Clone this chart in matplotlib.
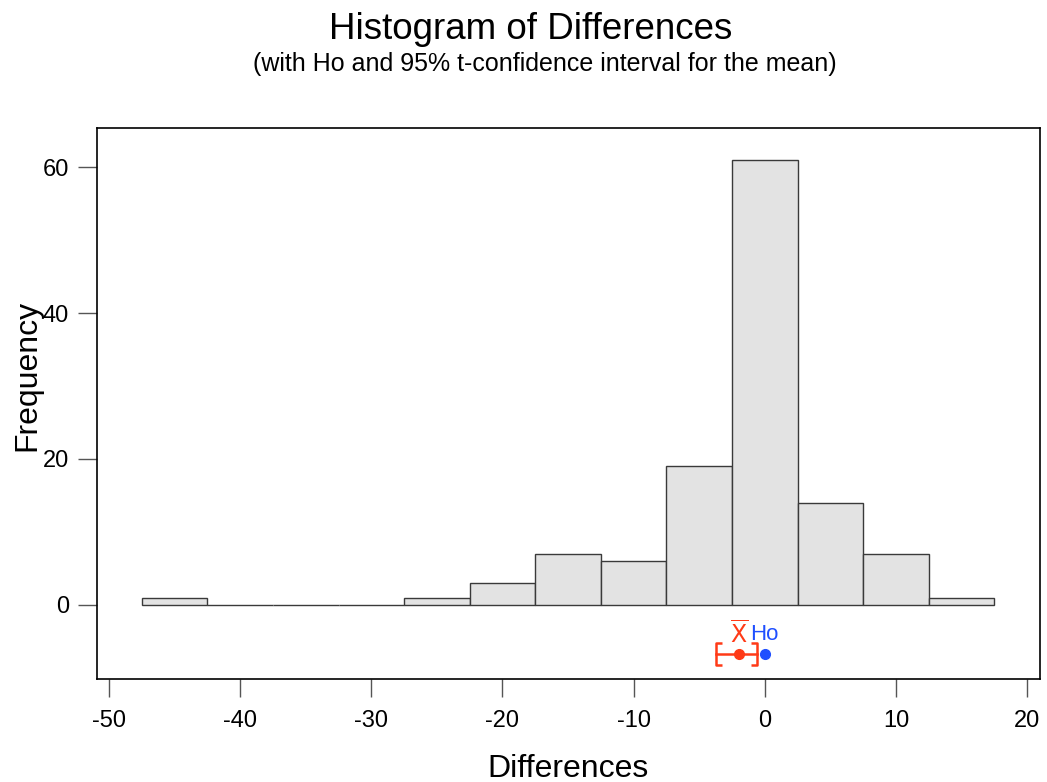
import matplotlib
matplotlib.use('Agg')
import matplotlib.pyplot as plt
import numpy as np

plt.rcParams['font.family'] = ['Liberation Sans', 'DejaVu Sans']
plt.rcParams['axes.unicode_minus'] = False

# histogram bins (centres) and counts
bin_centers = [-45, -40, -35, -30, -25, -20, -15, -10, -5, 0, 5, 10, 15]
counts = [1, 0, 0, 0, 1, 3, 7, 6, 19, 61, 14, 7, 1]
bin_width = 5

# mean, 95% t-confidence interval, null hypothesis
mean_diff = -1.95
ci_low, ci_high = -3.7, -0.6
h0 = 0

W, H = 1047, 782
fig = plt.figure(figsize=(W / 100, H / 100), dpi=100)
ax = fig.add_axes([97 / W, 1 - 679 / H, (1040 - 97) / W, (679 - 128) / H])

ax.bar(bin_centers, counts, width=bin_width, color='#e3e3e3', edgecolor='#3a3a3a', linewidth=1.0)

ci_y = -6.7
red = '#ff3a17'
blue = '#1f4fff'
lbr = [(0.5, 1), (0, 1), (0, -1), (0.5, -1)]
rbr = [(-0.5, 1), (0, 1), (0, -1), (-0.5, -1)]
ax.plot([ci_low, ci_high], [ci_y, ci_y], color=red, lw=1.8)
ax.plot(ci_low, ci_y, marker=lbr, ms=16, mew=1.8, color=red, fillstyle='none')
ax.plot(ci_high, ci_y, marker=rbr, ms=16, mew=1.8, color=red, fillstyle='none')
ax.plot(mean_diff, ci_y, 'o', color=red, ms=7)
ax.plot(h0, ci_y, 'o', color=blue, ms=7)
ax.annotate(r'$\overline{\mathrm{X}}$', (mean_diff, -4.1), color=red, fontsize=17,
            ha='center', va='center', math_fontfamily='dejavusans')
ax.annotate('Ho', (h0, -4.1), xytext=(-15, 0), textcoords='offset pixels', color=blue,
            fontsize=16, ha='left', va='center')

ax.set_xlim(-50.92, 20.99)
ax.set_ylim(-10.16, 65.36)
ax.set_xticks(np.arange(-50, 21, 10))
ax.set_yticks([0, 20, 40, 60])
ax.tick_params(axis='x', direction='out', length=13, width=1.0, labelsize=17, pad=9, color='#555555')
ax.tick_params(axis='y', direction='out', length=14, width=1.0, labelsize=17, pad=6, color='#555555')
for s in ax.spines.values():
    s.set_linewidth(1.2)

fig.text(568 / W, 1 - 777 / H, 'Differences', fontsize=23, ha='center', va='baseline')
fig.text(35 / W, 1 - 375 / H, 'Frequency', fontsize=23, ha='center', va='baseline',
         rotation=90, rotation_mode='anchor')

fig.text(531 / W, 1 - 39 / H, 'Histogram of Differences', fontsize=26.5, ha='center', va='baseline')
fig.text(545 / W, 1 - 71 / H, '(with Ho and 95% t-confidence interval for the mean)', fontsize=18,
         ha='center', va='baseline')

fig.savefig('out.png', dpi=100)
